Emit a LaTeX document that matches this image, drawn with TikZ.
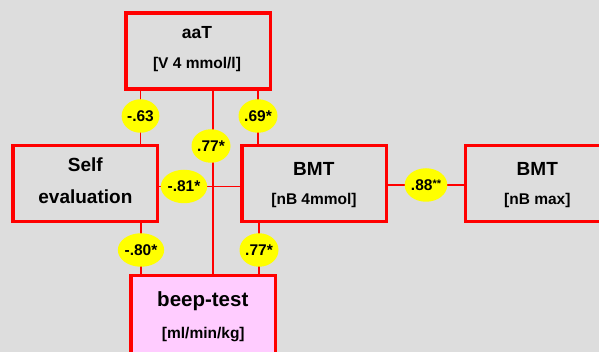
\documentclass[tikz,border=0pt]{standalone}
\usepackage{fontspec}
\setmainfont{Liberation Sans}
\usetikzlibrary{shapes.geometric}
\definecolor{bg}{HTML}{DDDDDD}
\definecolor{pinkbox}{HTML}{FFCCFF}
\definecolor{boxred}{HTML}{FF0000}
\definecolor{corryellow}{HTML}{FFFF00}
\begin{document}
\begin{tikzpicture}[x=1pt,y=-1pt,
  box/.style={draw=boxred, line width=3.5pt, fill=bg, minimum width=144.5pt, minimum height=76pt, inner sep=0pt},
  title/.style={anchor=base, inner sep=0pt, font=\bfseries\fontsize{19}{19}\selectfont},
  sub/.style={anchor=base, inner sep=0pt, font=\bfseries\fontsize{15.5}{15.5}\selectfont},
  conn/.style={draw=boxred, line width=1.2pt},
  corr/.style={ellipse, fill=corryellow, minimum width=37pt, minimum height=33.5pt, inner sep=0pt, font=\bfseries\fontsize{15.5}{15.5}\selectfont}]
\fill[bg] (0,0) rectangle (599,352);
\useasboundingbox (0,0) rectangle (599,352);
\begin{scope}
\clip (0,0) rectangle (599,352);
% correlation positions
\coordinate (p63) at (140.5,116);
\coordinate (p69) at (258,116);
\coordinate (p77a) at (213,146);
\coordinate (p81) at (184,186.5);
\coordinate (p80) at (141,250);
\coordinate (p77b) at (259,250);
\coordinate (p88) at (426,185);
% boxes
\node[box] (aaT) at (198,51) {};
\node[box] (self) at (85,183.5) {};
\node[box] (bmt) at (314,183.5) {};
\node[box] (bmtr) at (537.5,183.5) {};
\node[box, fill=pinkbox, minimum height=84pt] (beep) at (203,317.75) {};
% texts
\node[title, font=\bfseries\fontsize{17.5}{17.5}\selectfont] (taaT) at (197,38.3) {aaT};
\node[sub] (saaT) at (197,68.3) {[V 4 mmol/l]};
\node[title] (tself) at (85.3,171.7) {Self};
\node[title] (tself2) at (85.4,204) {evaluation};
\node[title] (tbmt) at (313.8,175.7) {BMT};
\node[sub] (sbmt) at (314,205) {[nB 4mmol]};
\node[title] (tbmtr) at (537.3,175.7) {BMT};
\node[sub] (sbmtr) at (537.3,205) {[nB max]};
\node[title, font=\bfseries\fontsize{20.5}{20.5}\selectfont] (tbeep) at (202.8,306.7) {beep-test};
\node[sub] (sbeep) at (203.3,338.3) {[ml/min/kg]};
% connectors
\draw[conn] (p63 |- aaT.south) -- (p63 |- self.north);
\draw[conn] (p69 |- aaT.south) -- (p69 |- bmt.north);
\draw[conn] (p77a |- aaT.south) -- (p77a |- beep.north);
\draw[conn] (self.east |- p81) -- (bmt.west |- p81);
\draw[conn] (p80 |- self.south) -- (p80 |- beep.north);
\draw[conn] (p77b |- bmt.south) -- (p77b |- beep.north);
\draw[conn] (bmt.east |- p88) -- (bmtr.west |- p88);
% correlation labels
\node[corr] (e63) at (p63) {-.63};
\node[corr] (e69) at (p69) {.69*};
\node[corr] (e77a) at ([xshift=-2pt]p77a) {.77*};
\node[corr] (e81) at (p81) {-.81*};
\node[corr] (e80) at (p80) {-.80*};
\node[corr] (e77b) at (p77b) {.77*};
\node[corr] (e88) at (p88) {.88\raisebox{3pt}{\fontsize{11}{11}\selectfont **}};
\end{scope}
\end{tikzpicture}
\end{document}
